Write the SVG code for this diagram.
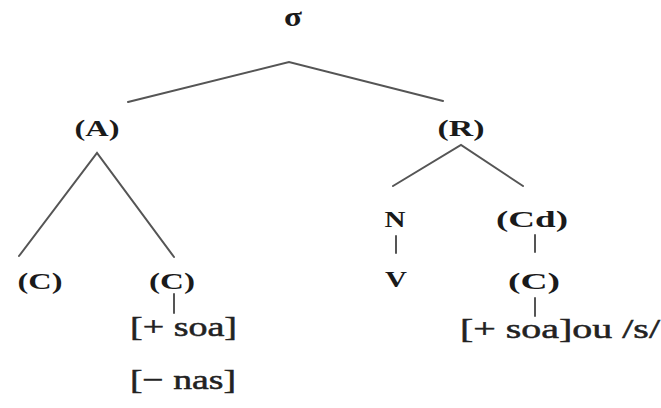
<svg xmlns="http://www.w3.org/2000/svg" width="661" height="408" viewBox="0 0 661 408">
<style>
.n{font-family:"Liberation Serif","Times New Roman",serif;font-weight:bold;font-size:24px;fill:#1a1a1a;text-anchor:middle}
.f{font-family:"Liberation Serif","Times New Roman",serif;font-size:28px;fill:#222;stroke:#222;stroke-width:0.5}
.e{stroke:#555;stroke-width:2;fill:none;stroke-linecap:round}
</style>
<rect width="661" height="408" fill="#fff"/>
<g id="connectors">
<path class="e" d="M128 102 L289 62 L443 101"/>
<path class="e" d="M19 256 L97 153 L174 257"/>
<path class="e" d="M393 186 L461 145 L523 186"/>
<path class="e" d="M396 236 V253"/>
<path class="e" d="M535 235 V252"/>
<path class="e" d="M174 294 V313"/>
<path class="e" d="M535 298 V316"/>
</g>
<g id="sigma"><text class="n" x="293" y="26" style="font-size:28px" textLength="18" lengthAdjust="spacingAndGlyphs">σ</text></g>
<g id="A"><text class="n" x="97" y="136" textLength="45" lengthAdjust="spacingAndGlyphs">(A)</text></g>
<g id="R"><text class="n" x="461" y="136" textLength="47" lengthAdjust="spacingAndGlyphs">(R)</text></g>
<g id="C1"><text class="n" x="40" y="289" textLength="45" lengthAdjust="spacingAndGlyphs">(C)</text></g>
<g id="C2"><text class="n" x="172" y="289" textLength="46" lengthAdjust="spacingAndGlyphs">(C)</text></g>
<g id="N"><text class="n" x="395" y="227" textLength="21" lengthAdjust="spacingAndGlyphs">N</text></g>
<g id="Cd"><text class="n" x="532" y="227" textLength="72" lengthAdjust="spacingAndGlyphs">(Cd)</text></g>
<g id="V"><text class="n" x="396" y="287" textLength="22" lengthAdjust="spacingAndGlyphs">V</text></g>
<g id="C3"><text class="n" x="534" y="289" textLength="52" lengthAdjust="spacingAndGlyphs">(C)</text></g>
<g id="soa1"><text class="f" x="130" y="336" textLength="107" lengthAdjust="spacingAndGlyphs">[+ soa]</text></g>
<g id="nas"><text class="f" x="130" y="389" textLength="106" lengthAdjust="spacingAndGlyphs">[− nas]</text></g>
<g id="soa2"><text class="f" x="460" y="338" textLength="200" lengthAdjust="spacingAndGlyphs">[+ soa]ou /s/</text></g>
</svg>
